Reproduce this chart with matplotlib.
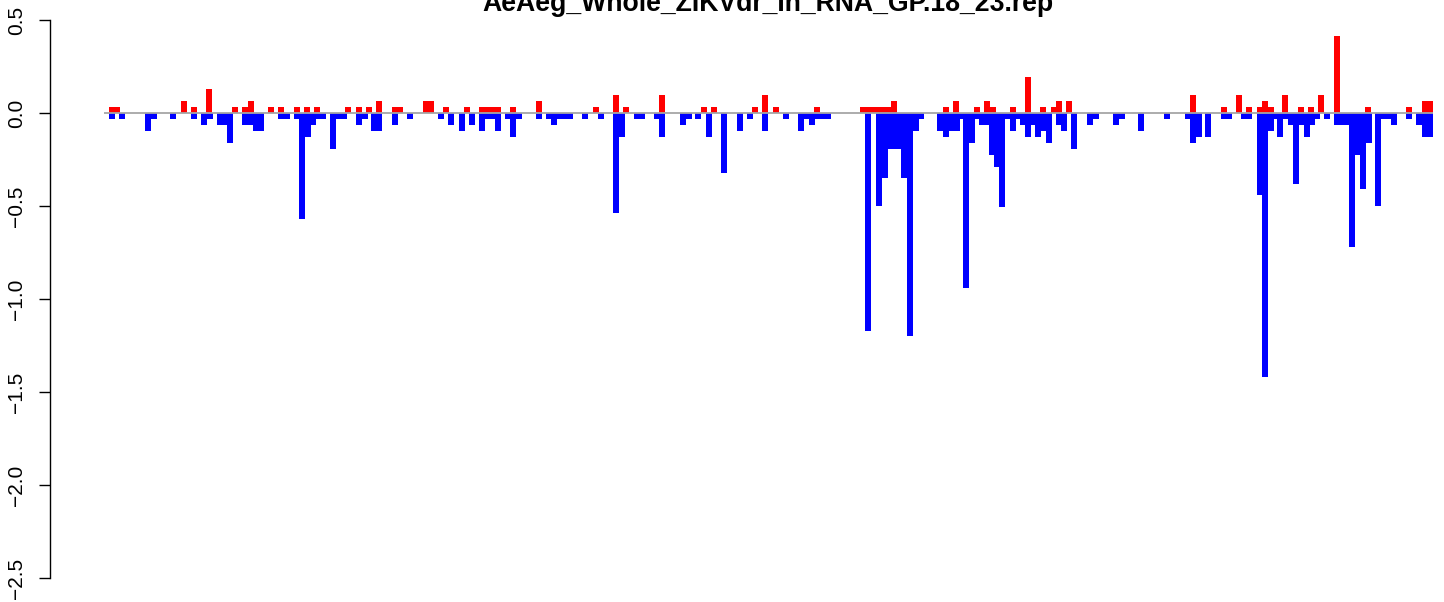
import matplotlib
matplotlib.use("Agg")
import matplotlib.pyplot as plt

plt.rcParams['font.family'] = ['Liberation Sans', 'DejaVu Sans']

title = "AeAeg_Whole_ZIKVdr_In_RNA_GP.18_23.rep"

# positions along the sequence (plot units) and values
red_pos = [109, 114.5, 181, 191, 206, 232, 242, 248,
           268, 278, 294, 304, 314, 345, 356, 366, 376,
           392, 397.5, 423, 428.5, 443, 464,
           479, 484.5, 490, 495.5, 510, 536,
           593, 613, 623, 659, 701, 711, 752, 762, 773, 814,
           860, 865, 870, 875.5, 880.5, 886, 891,
           943, 953, 974, 984, 990, 1010, 1025, 1040, 1051, 1056, 1066,
           1190, 1221, 1236, 1246,
           1257, 1262, 1268, 1282, 1298, 1308, 1318, 1334, 1365, 1406, 1422, 1427.5]
red_val = [0.032, 0.032, 0.065, 0.032, 0.129, 0.032, 0.032, 0.065,
           0.032, 0.032, 0.032, 0.032, 0.032, 0.032, 0.032, 0.032, 0.065,
           0.032, 0.032, 0.065, 0.065, 0.032, 0.032,
           0.032, 0.032, 0.032, 0.032, 0.032, 0.065,
           0.032, 0.097, 0.032, 0.097, 0.032, 0.032, 0.032, 0.097, 0.032, 0.032,
           0.032, 0.032, 0.032, 0.032, 0.032, 0.032, 0.065,
           0.032, 0.065, 0.032, 0.065, 0.032, 0.032, 0.194, 0.032, 0.032, 0.065, 0.065,
           0.097, 0.032, 0.097, 0.032,
           0.032, 0.065, 0.032, 0.097, 0.032, 0.032, 0.097, 0.414, 0.032, 0.032, 0.065, 0.065]

blue_pos = [109, 119, 145, 151, 170, 191, 201, 207, 217, 222, 227,
            242, 247.5, 253, 258.5, 278, 284, 294, 299, 305, 310, 315, 320.5,
            330, 336, 341, 356, 362, 371, 376.5, 392, 407,
            438, 448, 459, 469, 479, 485, 490, 495, 505, 510, 516,
            536, 546, 551, 557, 562, 567.5, 582, 598,
            613, 619, 634, 639.5, 654, 659, 680, 686, 695, 706, 721, 737, 747,
            762, 783, 798, 804, 809, 815, 820, 825,
            865, 876, 882, 887, 892, 896.5, 901, 907, 913, 918,
            937, 943, 949, 954, 959, 963, 969, 974, 979, 984, 989, 994, 999,
            1005, 1010, 1016, 1020, 1025, 1031, 1035, 1041, 1046, 1056, 1061, 1071,
            1087, 1093, 1113, 1119, 1138, 1164, 1185, 1190, 1196, 1205,
            1221, 1226.5, 1241, 1246.5,
            1257, 1262, 1268, 1273, 1277, 1283, 1288, 1293, 1299, 1304, 1309, 1314,
            1324, 1334, 1339, 1344, 1349, 1355, 1360, 1366, 1375, 1381, 1386, 1391,
            1406, 1416, 1422, 1427.5]
blue_val = [-0.032, -0.032, -0.097, -0.032, -0.032, -0.032, -0.065, -0.032, -0.065, -0.065, -0.161,
            -0.065, -0.065, -0.097, -0.097, -0.032, -0.032, -0.032, -0.57, -0.129, -0.065, -0.032, -0.032,
            -0.194, -0.032, -0.032, -0.065, -0.032, -0.097, -0.097, -0.065, -0.032,
            -0.032, -0.065, -0.097, -0.065, -0.097, -0.032, -0.032, -0.097, -0.032, -0.129, -0.032,
            -0.032, -0.032, -0.065, -0.032, -0.032, -0.032, -0.032, -0.032,
            -0.537, -0.129, -0.032, -0.032, -0.032, -0.129, -0.065, -0.032, -0.032, -0.129, -0.323, -0.097, -0.032,
            -0.097, -0.032, -0.097, -0.032, -0.065, -0.032, -0.032, -0.032,
            -1.17, -0.50, -0.35, -0.194, -0.194, -0.194, -0.35, -1.20, -0.097, -0.032,
            -0.097, -0.129, -0.097, -0.097, -0.032, -0.94, -0.161, -0.032, -0.065, -0.065, -0.226, -0.29, -0.505,
            -0.032, -0.097, -0.032, -0.065, -0.129, -0.065, -0.129, -0.097, -0.161, -0.065, -0.097, -0.194,
            -0.065, -0.032, -0.065, -0.032, -0.097, -0.032, -0.032, -0.161, -0.129, -0.129,
            -0.032, -0.032, -0.032, -0.032,
            -0.44, -1.42, -0.097, -0.032, -0.129, -0.032, -0.065, -0.38, -0.065, -0.129, -0.065, -0.032,
            -0.032, -0.065, -0.065, -0.065, -0.72, -0.226, -0.41, -0.161, -0.50, -0.032, -0.032, -0.065,
            -0.032, -0.065, -0.129, -0.129]

y_ticks = [0.5, 0.0, -0.5, -1.0, -1.5, -2.0, -2.5]
y_labels = ["0.5", "0.0", "\u22120.5", "\u22121.0", "\u22121.5", "\u22122.0", "\u22122.5"]

W, H = 1444, 602
bar_w = 5.6
ax_left = 49.5

fig = plt.figure(figsize=(W / 100, H / 100), dpi=100)
ax = fig.add_axes([ax_left / W, 24 / H, (W - ax_left) / W, 558 / H])
ax.set_xlim(ax_left, W)
ax.set_ylim(-2.5, 0.5)

ax.bar(red_pos, red_val, width=bar_w, align='edge', color='#FF0000', linewidth=0, zorder=2)
ax.bar(blue_pos, blue_val, width=bar_w, align='edge', color='#0000FF', linewidth=0, zorder=2)

x0 = min(min(red_pos), min(blue_pos)) - 5.5
x1 = max(max(red_pos), max(blue_pos)) + 5.5
ax.plot([x0, x1], [0, 0], color='#A6A6A6', linewidth=1.3, zorder=3, solid_capstyle='butt')

for s in ['top', 'right', 'bottom']:
    ax.spines[s].set_visible(False)
ax.spines['left'].set_linewidth(1.0)
ax.set_xticks([])
ax.set_yticks(y_ticks)
ax.set_yticklabels(y_labels)
ax.tick_params(axis='y', direction='out', length=8.2, width=1.0, labelsize=15, pad=8.5)
for lab in ax.get_yticklabels():
    lab.set_rotation(90)
    lab.set_va('center')

fig.text(768 / W, 1 - 11 / H, title, ha='center', va='baseline',
         fontsize=19.2, fontweight='bold')

fig.savefig("out.png", dpi=100)
